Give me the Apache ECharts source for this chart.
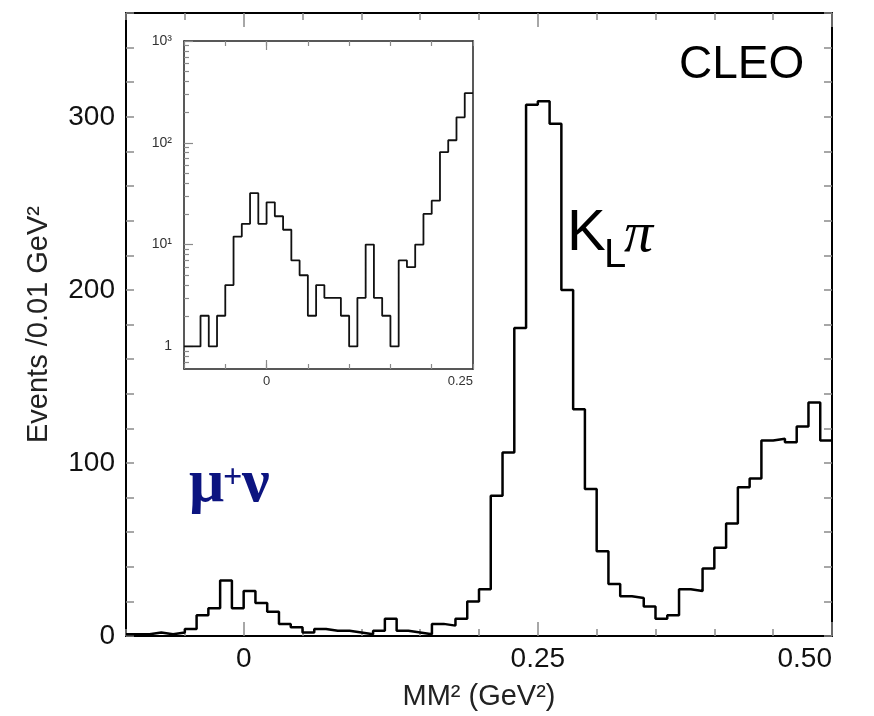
<!DOCTYPE html>
<html><head><meta charset="utf-8">
<script src="https://cdn.jsdelivr.net/npm/echarts@6/dist/echarts.min.js"></script>
<style>html,body{margin:0;padding:0;background:#fff}#c{width:874px;height:716px}</style>
</head><body><div id="c"></div>
<script>
// Bin edges (GeV^2), 0.01 wide
const binEdges = [-0.10,-0.09,-0.08,-0.07,-0.06,-0.05,-0.04,-0.03,-0.02,-0.01,
  0.00,0.01,0.02,0.03,0.04,0.05,0.06,0.07,0.08,0.09,
  0.10,0.11,0.12,0.13,0.14,0.15,0.16,0.17,0.18,0.19,
  0.20,0.21,0.22,0.23,0.24,0.25,0.26,0.27,0.28,0.29,
  0.30,0.31,0.32,0.33,0.34,0.35,0.36,0.37,0.38,0.39,
  0.40,0.41,0.42,0.43,0.44,0.45,0.46,0.47,0.48,0.49,0.50];
// Events per bin
const counts = [1,1,2,1,2,4,12,16,32,16,
  26,19,14,7,5,2,4,3,3,2,
  1,3,10,3,2,1,7,6,10,20,
  27,81,106,178,307,309,296,200,131,85,
  49,30,23,22,17,10,12,27,26,39,
  51,65,86,91,113,114,112,121,135,113];
const mainXLabels = [0, 0.25, 0.5];
const mainYLabels = [0, 100, 200, 300];
const insetXLabels = [0, 0.25];
const insetYLabels = [1, 10, 100, 1000];
const insetYMinor = [0.7,0.8,0.9,2,3,4,5,6,7,8,9,20,30,40,50,60,70,80,90,200,300,400,500,600,700,800,900];
const insetYMin = 0.6, insetYMax = 1000;
const insetMax = 0.25;

const mainData = binEdges.map((e, i) => [e, counts[Math.min(i, counts.length - 1)]]);
const insetData = [];
for (let i = 0; i < binEdges.length && binEdges[i] <= insetMax + 1e-9; i++) {
  insetData.push([binEdges[i], counts[Math.min(i, counts.length - 1)]]);
}
// last point closes the final bin at the inset edge
insetData[insetData.length - 1][1] = insetData[insetData.length - 2][1];

const SANS = '"Liberation Sans", Arial, sans-serif';
const tickGray = '#8a8a8a';
const hide = { show: false };
const noLine = { show: false, onZero: false };

function xAx(grid, pos, min, max, opts) {
  return Object.assign({
    type: 'value', gridIndex: grid, position: pos, min: min, max: max,
    splitLine: hide, axisLine: { show: true, onZero: false, lineStyle: { color: '#000', width: 2 } },
    axisTick: hide, axisLabel: hide
  }, opts);
}
function yAx(grid, pos, type, min, max, opts) {
  return Object.assign({
    type: type, gridIndex: grid, position: pos, min: min, max: max,
    splitLine: hide, axisLine: { show: true, onZero: false, lineStyle: { color: '#000', width: 2 } },
    axisTick: hide, axisLabel: hide
  }, opts);
}
// tick-only axis in decade units, used to place log ticks on the inset
const logTickMin = Math.log10(insetYMin), logTickMax = Math.log10(insetYMax);

const chart = echarts.init(document.getElementById('c'), null, { renderer: 'canvas' });
chart.setOption({
  animation: false,
  backgroundColor: '#fff',
  grid: [
    { left: 126, top: 13, width: 706, height: 623 },
    { left: 184, top: 41, width: 289, height: 328 }
  ],
  xAxis: [
    xAx(0, 'bottom', -0.1, 0.5, {
      interval: 0.05,
      axisTick: { show: true, inside: true, length: 7, lineStyle: { color: tickGray, width: 1.5 } },
      axisLabel: { show: true, customValues: mainXLabels, fontFamily: SANS, fontSize: 28, color: '#111', margin: 9,
        alignMaxLabel: 'right', formatter: v => (v === 0.5 ? '0.50' : String(v)) },
      name: 'MM\u00b2 (GeV\u00b2)', nameLocation: 'middle', nameGap: 46,
      nameTextStyle: { fontFamily: SANS, fontSize: 29, color: '#222' }
    }),
    xAx(0, 'bottom', -0.1, 0.5, { axisLine: noLine,
      axisTick: { show: true, inside: true, length: 14, customValues: mainXLabels, lineStyle: { color: tickGray, width: 1.5 } } }),
    xAx(0, 'top', -0.1, 0.5, { interval: 0.05,
      axisTick: { show: true, inside: true, length: 7, lineStyle: { color: tickGray, width: 1.5 } } }),
    xAx(0, 'top', -0.1, 0.5, { axisLine: noLine,
      axisTick: { show: true, inside: true, length: 14, customValues: mainXLabels, lineStyle: { color: tickGray, width: 1.5 } } }),
    xAx(1, 'bottom', -0.1, insetMax, { interval: 0.05, axisLine: { show: true, onZero: false, lineStyle: { color: '#222', width: 1.5 } },
      axisTick: { show: true, inside: true, length: 5, lineStyle: { color: tickGray, width: 1.2 } },
      axisLabel: { show: true, customValues: insetXLabels, fontFamily: SANS, fontSize: 13, color: '#333', margin: 6,
        alignMaxLabel: 'right' } }),
    xAx(1, 'bottom', -0.1, insetMax, { axisLine: noLine,
      axisTick: { show: true, inside: true, length: 9, customValues: [0], lineStyle: { color: tickGray, width: 1.2 } } }),
    xAx(1, 'top', -0.1, insetMax, { interval: 0.05, axisLine: { show: true, onZero: false, lineStyle: { color: '#222', width: 1.5 } },
      axisTick: { show: true, inside: true, length: 5, lineStyle: { color: tickGray, width: 1.2 } } }),
    xAx(1, 'top', -0.1, insetMax, { axisLine: noLine,
      axisTick: { show: true, inside: true, length: 9, customValues: [0], lineStyle: { color: tickGray, width: 1.2 } } })
  ],
  yAxis: [
    yAx(0, 'left', 'value', 0, 360, { interval: 20,
      axisTick: { show: true, inside: true, length: 8, lineStyle: { color: tickGray, width: 1.5 } },
      axisLabel: { show: true, customValues: mainYLabels, fontFamily: SANS, fontSize: 28, color: '#111', margin: 11 },
      name: 'Events /0.01 GeV\u00b2', nameLocation: 'middle', nameGap: 73, nameRotate: 90,
      nameTextStyle: { fontFamily: SANS, fontSize: 29, color: '#222' } }),
    yAx(0, 'right', 'value', 0, 360, { interval: 20,
      axisTick: { show: true, inside: true, length: 8, lineStyle: { color: tickGray, width: 1.5 } } }),
    // inset left log: line + labels
    yAx(1, 'left', 'log', insetYMin, insetYMax, { logBase: 10, axisLine: { show: true, onZero: false, lineStyle: { color: '#222', width: 1.5 } },
      axisLabel: { show: true, customValues: insetYLabels, fontFamily: SANS, fontSize: 14, color: '#333', margin: 12,
        formatter: v => (v === 1 ? '1' : v === 10 ? '10\u00b9' : v === 100 ? '10\u00b2' : '10\u00b3') } }),
    // inset left: major ticks (decade units)
    yAx(1, 'left', 'value', logTickMin, logTickMax, { axisLine: noLine,
      axisTick: { show: true, inside: true, length: 9, customValues: insetYLabels.map(Math.log10), lineStyle: { color: tickGray, width: 1.2 } } }),
    // inset left: minor ticks (decade units)
    yAx(1, 'left', 'value', logTickMin, logTickMax, { axisLine: noLine,
      axisTick: { show: true, inside: true, length: 5, customValues: insetYMinor.map(Math.log10), lineStyle: { color: tickGray, width: 1.2 } } }),
    // inset right
    yAx(1, 'right', 'log', insetYMin, insetYMax, { logBase: 10, axisLine: { show: true, onZero: false, lineStyle: { color: '#222', width: 1.5 } } })
  ],
  series: [
    { type: 'line', xAxisIndex: 0, yAxisIndex: 0, step: 'end', data: mainData, showSymbol: false, symbol: 'none',
      lineStyle: { color: '#000', width: 2.5 }, silent: true },
    { type: 'line', xAxisIndex: 4, yAxisIndex: 2, step: 'end', data: insetData, showSymbol: false, symbol: 'none',
      lineStyle: { color: '#111', width: 1.8 }, silent: true }
  ],
  graphic: [
    { type: 'text', x: 679, y: 65, style: { text: 'CLEO', font: '46px ' + SANS, fill: '#000', align: 'left', verticalAlign: 'middle' } },
    { type: 'text', x: 567, y: 234, style: { text: 'K', font: '58px ' + SANS, fill: '#000', align: 'left', verticalAlign: 'middle' } },
    { type: 'text', x: 604, y: 256, style: { text: 'L', font: '40px ' + SANS, fill: '#000', align: 'left', verticalAlign: 'middle' } },
    { type: 'text', x: 624, y: 236, style: { text: '\u03c0', font: 'italic 58px "Liberation Serif", serif', fill: '#000', align: 'left', verticalAlign: 'middle' } },
    { type: 'text', x: 189, y: 485, style: { text: '\u03bc', font: 'bold 62px "Liberation Serif", serif', fill: '#0c1480', align: 'left', verticalAlign: 'middle' } },
    { type: 'text', x: 223, y: 478, style: { text: '+', font: 'bold 34px "Liberation Serif", serif', fill: '#0c1480', align: 'left', verticalAlign: 'middle' } },
    { type: 'text', x: 242, y: 485, style: { text: '\u03bd', font: 'bold 62px "Liberation Serif", serif', fill: '#0c1480', align: 'left', verticalAlign: 'middle' } }
  ]
});
</script></body></html>
